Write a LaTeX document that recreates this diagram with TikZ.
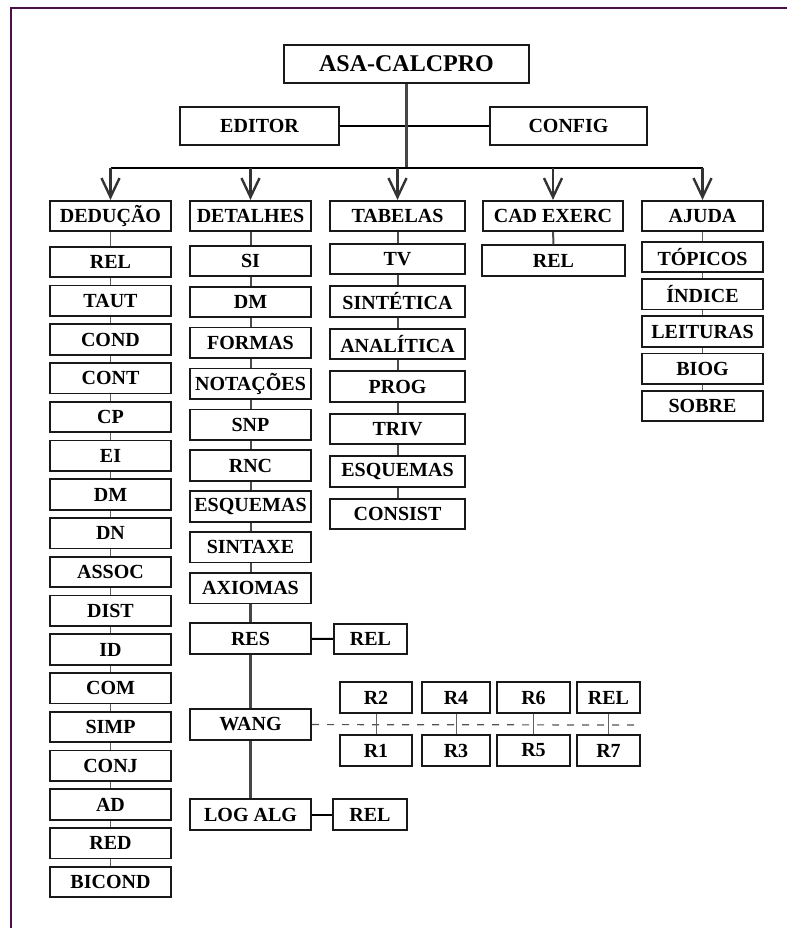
\documentclass[tikz,border=0pt]{standalone}
\usepackage{fontspec}
\setmainfont{Liberation Serif}
\usepackage{xcolor}
\usetikzlibrary{arrows.meta}
\definecolor{framepurple}{HTML}{4A1048}
\newcommand{\boxfont}{\fontsize{20}{22}\selectfont\bfseries}
\tikzset{box/.style={draw=black!90,line width=1.7pt,minimum height=30.5pt,inner sep=0pt,align=center,font=\boxfont},
  link/.style={gray!75!black,line width=0.9pt},
  thicklink/.style={gray!60!black,line width=2pt},
  chainln/.style={gray!55!black,line width=3pt},
  arr/.style={-{Straight Barb[length=19pt,width=18pt,line width=2.4pt]},gray!40!black,line width=2.6pt}}

\begin{document}
\begin{tikzpicture}[x=1pt,y=-1pt]
\useasboundingbox (0,0) rectangle (787,928);
\draw[framepurple,line width=2.5pt] (11,928) -- (11,8) -- (787,8);
\node[box,minimum width=245pt,minimum height=38.5pt,font=\fontsize{24}{26}\selectfont\bfseries] (asa) at (406.5,64) {ASA-CALCPRO};
\node[box,minimum width=159pt,minimum height=38.5pt] (editor) at (259.5,126) {EDITOR};
\node[box,minimum width=157pt,minimum height=38.5pt] (config) at (568.5,126) {CONFIG};
\draw[line width=1.6pt] (editor) -- (config);
\coordinate (bus) at (406.5,168);
\draw[gray!55!black,line width=3pt] (asa) -- (bus);
\foreach \name/\x/\w/\txt in {ded/110.5/121.5/DEDUÇÃO, det/250.5/121.5/DETALHES, tab/397.5/135.5/TABELAS, cad/553/140.5/CAD EXERC, aju/702.5/121.5/AJUDA}
  \node[box,minimum width=\w pt] (\name) at (\x,216) {\txt};
\draw[line width=1.8pt] (ded.north |- bus) -- (aju.north |- bus);
\foreach \n in {ded,det,tab,cad,aju}
  \draw[arr] (\n.north |- bus) -- (\n.north);
\foreach \txt [count=\i] in {REL,TAUT,COND,CONT,CP,EI,DM,DN,ASSOC,DIST,ID,COM,SIMP,CONJ,AD,RED,BICOND}
  \node[box,minimum width=121.5pt] (ded\i) at (110.5,{262+38.75*(\i-1)}) {\txt};
\draw[link] (ded) -- (ded1);
\foreach \i [evaluate=\i as \j using int(\i-1)] in {2,...,17}
  \draw[link] (ded\j) -- (ded\i);
\foreach \txt [count=\i] in {SI,DM,FORMAS,NOTAÇÕES,SNP,RNC,ESQUEMAS,SINTAXE,AXIOMAS}
  \node[box,minimum width=121.5pt] (det\i) at (250.5,{261+40.9*(\i-1)}) {\txt};
\draw[thicklink] (det) -- (det1);
\foreach \i [evaluate=\i as \j using int(\i-1)] in {2,...,9}
  \draw[thicklink] (det\j) -- (det\i);
\node[box,minimum width=121.5pt] (res) at (250.5,638.5) {RES};
\node[box,minimum width=121.5pt] (wang) at (250.5,724.5) {WANG};
\node[box,minimum width=121.5pt] (logalg) at (250.5,814.5) {LOG ALG};
\draw[chainln] (det9) -- (res) -- (wang) -- (logalg);
\node[box,minimum width=73.5pt] (resrel) at (370.5,639) {REL};
\node[box,minimum width=74.5pt] (logrel) at (370,814.5) {REL};
\draw[line width=2pt] (res) -- (resrel);
\draw[line width=2pt] (logalg) -- (logrel);
\coordinate (dashend) at (637,725);
\draw[gray!65!black,line width=1.2pt,dash pattern=on 7pt off 8pt] (wang) -- (dashend);
\foreach \ru/\rd/\x/\w [count=\i] in {R2/R1/376/72.5, R4/R3/456/68.5, R6/R5/533.5/72.5, REL/R7/608.5/63.5}{
  \node[box,minimum width=\w pt] (up\i) at (\x,697.5) {\ru};
  \node[box,minimum width=\w pt] (dn\i) at (\x,750.5) {\rd};
  \draw[link] (up\i) -- (dn\i);
}
\foreach \txt [count=\i] in {TV,SINTÉTICA,ANALÍTICA,PROG,TRIV,ESQUEMAS,CONSIST}
  \node[box,minimum width=135.5pt] (tab\i) at (397.5,{259+42.5*(\i-1)}) {\txt};
\draw[thicklink] (tab) -- (tab1);
\foreach \i [evaluate=\i as \j using int(\i-1)] in {2,...,7}
  \draw[thicklink] (tab\j) -- (tab\i);
\node[box,minimum width=143pt] (cadrel) at (553.5,260.5) {REL};
\draw[thicklink] (cad) -- (cadrel);
\foreach \txt [count=\i] in {TÓPICOS,ÍNDICE,LEITURAS,BIOG,SOBRE}
  \node[box,minimum width=121.5pt] (aju\i) at (702.5,{257+37.25*(\i-1)}) {\txt};
\draw[link] (aju) -- (aju1);
\foreach \i [evaluate=\i as \j using int(\i-1)] in {2,...,5}
  \draw[link] (aju\j) -- (aju\i);
\end{tikzpicture}
\end{document}
